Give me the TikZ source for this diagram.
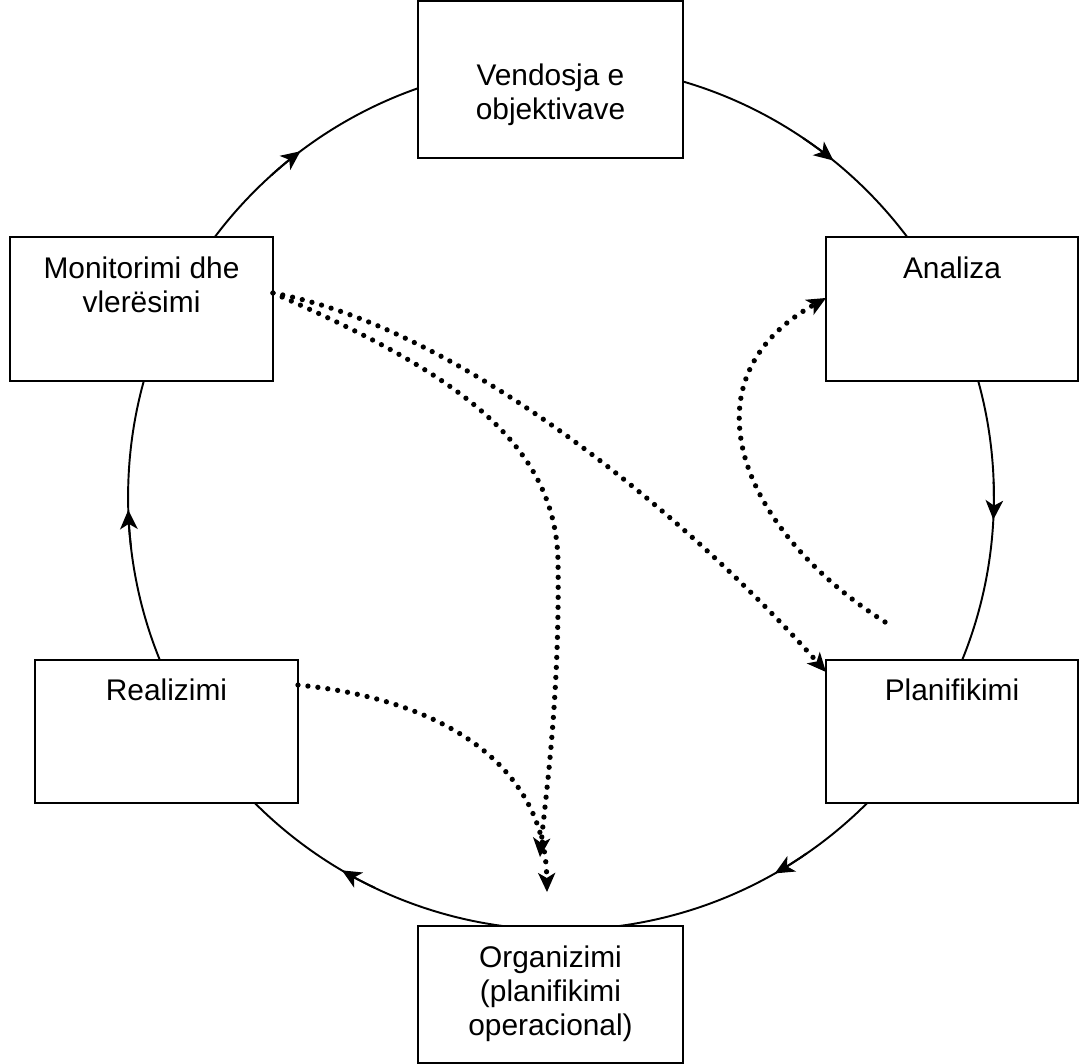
\documentclass[tikz,border=0pt]{standalone}
\usepackage{fontspec}
\setmainfont{Liberation Sans}
\usetikzlibrary{arrows.meta}
% box contents: width, height, depth of first baseline, text
\newcommand\stagetext[4]{\parbox[c][#2][t]{#1}{\centering\fontsize{17}{19.3}\selectfont\rule{0pt}{#3}#4\par}}
\begin{document}
\begin{tikzpicture}[x=0.02cm,y=0.02cm,
  stage/.style={draw, line width=1.1pt, fill=white, inner sep=0pt, outer sep=0pt},
  cyc/.style={line width=1.1pt},
  cyctip/.style={-{Stealth[length=11pt,width=10pt,inset=3pt]}},
  dots/.style={line width=3pt, line cap=round, dash pattern=on 0pt off 5.7pt,
    -{Stealth[length=11pt,width=10pt,inset=3pt,line width=0pt]}}]
\useasboundingbox (0,0) rectangle (1079,1064);

% the cycle
\draw[cyc] (561,567) circle[radius=8.66cm];
\foreach \a in {127,51,-3,-60.4,-120.4,181.7}
  \draw[cyc,cyctip] (561,567) ++(\a+5:8.66cm) arc[start angle=\a+5, end angle=\a, radius=8.66cm];

% stages
\node[stage] (vend) at (550.5,984.5) {\stagetext{5.30cm}{3.14cm}{48pt}{Vendosja e\\objektivave}};
\node[stage] (mon)  at (141.5,755)   {\stagetext{5.26cm}{2.88cm}{23.8pt}{Monitorimi dhe\\vlerësimi}};
\node[stage] (ana)  at (952,755)     {\stagetext{5.04cm}{2.88cm}{23.8pt}{Analiza}};
\node[stage] (real) at (166.5,332.5) {\stagetext{5.26cm}{2.86cm}{23.2pt}{Realizimi}};
\node[stage] (plan) at (952,332.5)   {\stagetext{5.04cm}{2.86cm}{23.2pt}{Planifikimi}};
\node[stage] (org)  at (550.5,69.5)  {\stagetext{5.30cm}{2.74cm}{23.8pt}{Organizimi\\(planifikimi\\operacional)}};

% dotted feedback links
\coordinate (free) at (885,442);
\coordinate (orgA) at ([xshift=-0.21cm,yshift=1.38cm]org.north);
\coordinate (orgB) at ([xshift=-0.07cm,yshift=0.68cm]org.north);

\draw[dots] ([yshift=0.32cm]mon.east) .. controls (470,734) and (700,534) .. ([yshift=1.19cm]plan.west);
\draw[dots] ([yshift=0.32cm]mon.east) .. controls (450,694) and (555,624) .. (558,504)
  .. controls (560,364) and (545,264) .. (orgA);
\draw[dots] ([yshift=0.93cm]real.east) .. controls (450,364) and (545,294) .. (orgB);
\draw[dots] (free) .. controls (740,534) and (680,684) .. ([yshift=0.22cm]ana.west);
\end{tikzpicture}
\end{document}
